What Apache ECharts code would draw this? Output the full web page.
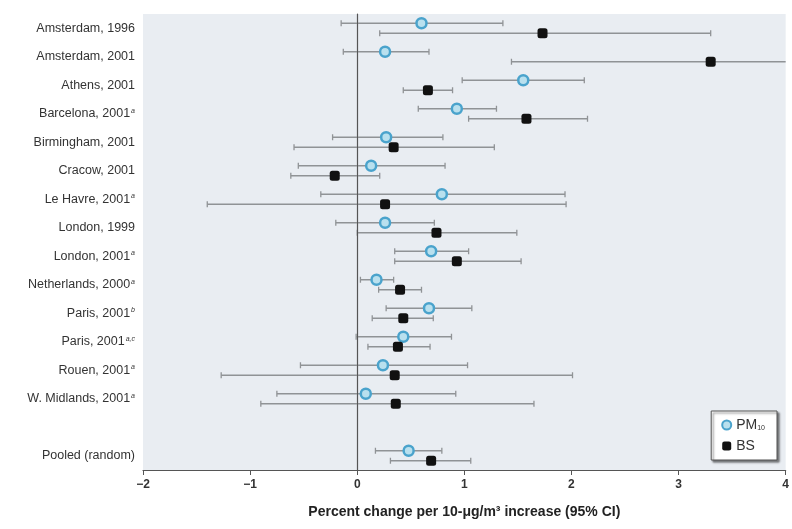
<!DOCTYPE html>
<html>
<head>
<meta charset="utf-8">
<script src="https://cdn.jsdelivr.net/npm/echarts@6/dist/echarts.min.js"></script>
<style>
html,body{margin:0;padding:0;background:#fff;}
#chart{width:792px;height:529px;}
</style>
</head>
<body>
<div id="chart"></div>
<script>
// Categories (blank slot before pooled estimate)
var categories = ['Amsterdam, 1996','Amsterdam, 2001','Athens, 2001','Barcelona, 2001','Birmingham, 2001','Cracow, 2001','Le Havre, 2001','London, 1999','London, 2001','Netherlands, 2000','Paris, 2001','Paris, 2001','Rouen, 2001','W. Midlands, 2001','','Pooled (random)'];
var notes = ['','','','a','','','a','','a','a','b','a,c','a','a','',''];

// PM10 estimates and 95% CI
var pmMean = [0.60, 0.26, 1.55, 0.93, 0.27, 0.13, 0.79, 0.26, 0.69, 0.18, 0.67, 0.43, 0.24, 0.08, null, 0.48];
var pmLow  = [-0.15, -0.13, 0.98, 0.57, -0.23, -0.55, -0.34, -0.20, 0.35, 0.03, 0.27, -0.01, -0.53, -0.75, null, 0.17];
var pmHigh = [1.36, 0.67, 2.12, 1.30, 0.80, 0.82, 1.94, 0.72, 1.04, 0.34, 1.07, 0.88, 1.03, 0.92, null, 0.79];

// BS estimates and 95% CI
var bsMean = [1.73, 3.30, 0.66, 1.58, 0.34, -0.21, 0.26, 0.74, 0.93, 0.40, 0.43, 0.38, 0.35, 0.36, null, 0.69];
var bsLow  = [0.21, 1.44, 0.43, 1.04, -0.59, -0.62, -1.40, 0.00, 0.35, 0.20, 0.14, 0.10, -1.27, -0.90, null, 0.31];
var bsHigh = [3.30, 5.16, 0.89, 2.15, 1.28, 0.21, 1.95, 1.49, 1.53, 0.60, 0.71, 0.68, 2.01, 1.65, null, 1.06];

// Axis ticks
var xMin = -2, xMax = 4, xStep = 1;

function ciData(lo, hi) {
  var out = [];
  for (var i = 0; i < categories.length; i++) {
    if (lo[i] == null) continue;
    out.push([i, lo[i], hi[i]]);
  }
  return out;
}
function ptData(m) {
  var out = [];
  for (var i = 0; i < categories.length; i++) {
    if (m[i] == null) continue;
    out.push([m[i], i]);
  }
  return out;
}
function errRender(offset) {
  return function (params, api) {
    var idx = api.value(0);
    var p1 = api.coord([api.value(1), idx]);
    var p2 = api.coord([api.value(2), idx]);
    var cs = params.coordSys;
    var right = cs.x + cs.width;
    var y = p1[1] + offset;
    var x1 = Math.max(p1[0], cs.x), x2 = Math.min(p2[0], right);
    var style = {stroke: '#909396', lineWidth: 1.3};
    var children = [{type: 'line', shape: {x1: x1, y1: y, x2: x2, y2: y}, style: style}];
    if (p1[0] >= cs.x) children.push({type: 'line', shape: {x1: p1[0], y1: y - 3, x2: p1[0], y2: y + 3}, style: style});
    if (p2[0] <= right) children.push({type: 'line', shape: {x1: p2[0], y1: y - 3, x2: p2[0], y2: y + 3}, style: style});
    return {type: 'group', children: children};
  };
}

var chart = echarts.init(document.getElementById('chart'));
var OFF = 5;
chart.setOption({
  animation: false,
  backgroundColor: '#ffffff',
  textStyle: {fontFamily: 'Liberation Sans Narrow, Liberation Sans, Arial, sans-serif'},
  grid: {left: 143, right: 4, top: 14, bottom: 59, show: true, backgroundColor: '#e9edf2', borderWidth: 0},
  legend: {
    data: ['PM10', 'BS'],
    orient: 'vertical',
    right: 15, top: 411,
    backgroundColor: '#ffffff',
    borderColor: '#555',
    borderWidth: 1,
    borderRadius: 0,
    padding: [7, 12, 7, 10],
    itemGap: 7,
    itemWidth: 9, itemHeight: 9,
    shadowColor: 'rgba(0,0,0,0.5)', shadowBlur: 2, shadowOffsetX: 2, shadowOffsetY: 2,
    formatter: function (n) { return n === 'PM10' ? '{m|PM}{s|10}' : '{m|BS}'; },
    textStyle: {
      color: '#333',
      rich: {
        m: {fontSize: 14, color: '#333', fontFamily: 'Liberation Sans Narrow, Liberation Sans, Arial'},
        s: {fontSize: 7, color: '#333', verticalAlign: 'bottom', padding: [6, 0, 0, 0]}
      }
    }
  },
  xAxis: {
    type: 'value', min: xMin, max: xMax, interval: xStep,
    name: 'Percent change per 10-μg/m³ increase (95% CI)',
    nameLocation: 'middle', nameGap: 35,
    nameTextStyle: {fontSize: 14, fontWeight: 'bold', color: '#222', fontFamily: 'Liberation Sans Narrow, Liberation Sans, Arial'},
    axisLine: {show: true, onZero: false, lineStyle: {color: '#555', width: 1.2}},
    axisTick: {show: true, length: 5, lineStyle: {color: '#555'}},
    axisLabel: {color: '#333', fontSize: 12, fontWeight: 'bold', margin: 9,
      formatter: function (v) { return v < 0 ? '\u2212' + Math.abs(v) : String(v); }},
    splitLine: {show: false}
  },
  yAxis: {
    type: 'category', data: categories, inverse: true,
    axisLine: {show: true, lineStyle: {color: '#555', width: 1.2}},
    axisTick: {show: false},
    splitLine: {show: false},
    axisLabel: {
      margin: 8, color: '#333', fontSize: 12.5,
      formatter: function (v, i) { return notes[i] ? '{n|' + v + '}{s|' + notes[i] + '}' : '{n|' + v + '}'; },
      rich: {
        n: {fontSize: 12.5, color: '#333', fontFamily: 'Liberation Sans Narrow, Liberation Sans, Arial'},
        s: {fontSize: 7, fontStyle: 'italic', color: '#333', verticalAlign: 'top', padding: [0, 0, 6, 1]}
      }
    }
  },
  series: [
    {
      type: 'custom', name: 'pmci', renderItem: errRender(-OFF), data: ciData(pmLow, pmHigh),
      encode: {x: [1, 2], y: 0}, silent: true, z: 2,
      markLine: {silent: true, symbol: 'none', label: {show: false},
        lineStyle: {color: '#555', width: 1, type: 'solid'}, data: [{xAxis: 0}]}
    },
    {type: 'custom', name: 'bsci', renderItem: errRender(OFF), data: ciData(bsLow, bsHigh),
      encode: {x: [1, 2], y: 0}, silent: true, z: 2},
    {
      type: 'scatter', name: 'PM10', data: ptData(pmMean), symbol: 'circle', symbolSize: 10,
      symbolOffset: [0, -OFF], z: 4,
      itemStyle: {color: '#b9e0ee', borderColor: '#4aa3cc', borderWidth: 2.5, opacity: 1}
    },
    {
      type: 'scatter', name: 'BS', data: ptData(bsMean), symbol: 'roundRect', symbolSize: 10,
      symbolOffset: [0, OFF], z: 5,
      itemStyle: {color: '#111111', opacity: 1}
    }
  ]
});
</script>
</body>
</html>
